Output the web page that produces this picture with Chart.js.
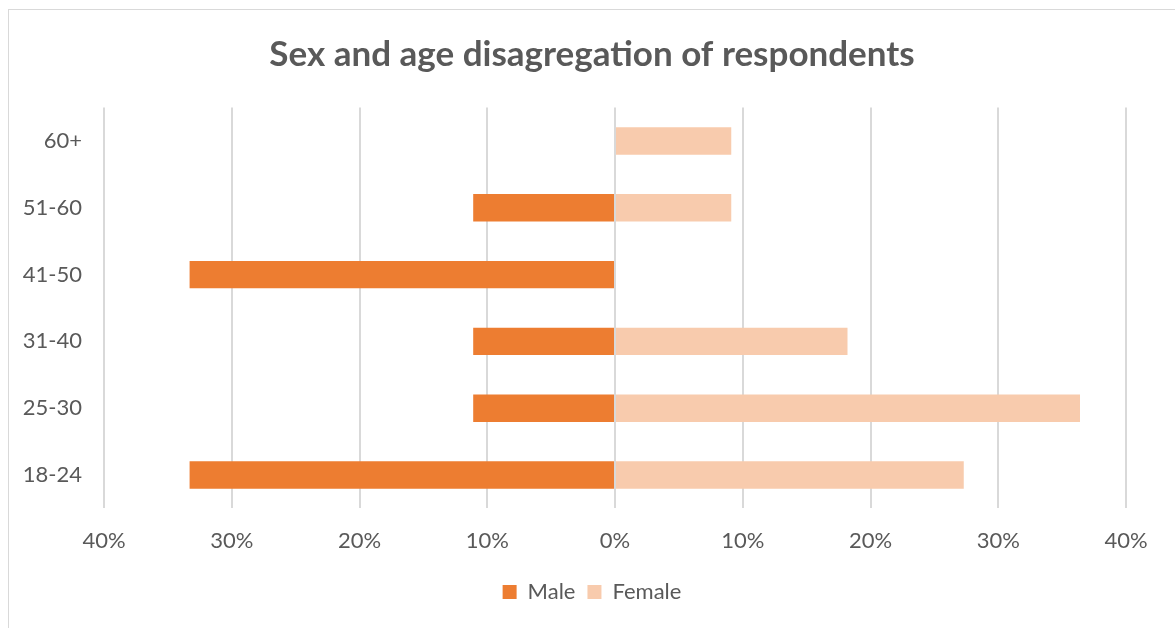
<!DOCTYPE html>
<html>
<head>
<meta charset="utf-8">
<script src="https://cdn.jsdelivr.net/npm/chart.js@4"></script>
<style>
  html, body { margin: 0; padding: 0; background: #fff; overflow: hidden; }
  #frame { position: absolute; left: 8px; top: 9px; width: 1300px; height: 800px; border: 1px solid #d9d9d9; }
  #chart { position: absolute; left: 0; top: 0; }
</style>
</head>
<body>
<div id="frame"></div>
<canvas id="chart" width="1184" height="628"></canvas>
<script>
// Age groups, top to bottom as in the picture
const ageGroups = ["60+", "51-60", "41-50", "31-40", "25-30", "18-24"];
// Share of respondents (%), male shown on the left as negative values
const malePct = [0, -11.1, -33.3, -11.1, -11.1, -33.3];
const femalePct = [9.1, 9.1, 0, 18.2, 36.4, 27.3];
// Axis range
const axisMin = -40;
const axisMax = 40;
const axisStep = 10;

const textColor = "#595959";
const fontFamily = "Lato, 'Noto Sans', sans-serif";

new Chart(document.getElementById("chart"), {
  type: "bar",
  data: {
    labels: ageGroups,
    datasets: [
      {
        label: "Male",
        data: malePct,
        backgroundColor: "#ED7D31",
        borderWidth: 0,
        barPercentage: 0.41,
        categoryPercentage: 1,
      },
      {
        label: "Female",
        data: femalePct,
        backgroundColor: "#F8CBAD",
        borderWidth: 0,
        barPercentage: 0.41,
        categoryPercentage: 1,
      },
    ],
  },
  options: {
    indexAxis: "y",
    responsive: false,
    animation: false,
    layout: { padding: { left: 0, right: 0, top: 0, bottom: 15 } },
    scales: {
      x: {
        stacked: true,
        min: axisMin,
        max: axisMax,
        ticks: {
          stepSize: axisStep,
          padding: 19,
          color: textColor,
          font: { family: fontFamily, size: 22 },
          callback: (v) => Math.abs(Math.round(v)) + "%",
        },
        grid: { color: "#d9d9d9", lineWidth: 2, drawTicks: false },
        border: { display: false },
        afterFit: (scale) => { scale.height = 60.6; },
      },
      y: {
        stacked: true,
        ticks: {
          padding: 22,
          color: textColor,
          font: { family: fontFamily, size: 22 },
        },
        grid: { display: false, drawTicks: false },
        border: { display: false },
        afterFit: (scale) => { scale.width = 104; },
      },
      // empty right-hand spacer so title and legend centre like the original
      yRight: {
        type: "category",
        position: "right",
        ticks: { display: false },
        grid: { display: false, drawTicks: false },
        border: { display: false },
        afterFit: (scale) => { scale.width = 58; },
      },
    },
    plugins: {
      title: {
        display: true,
        text: "Sex and age disagregation of respondents",
        color: textColor,
        font: { family: fontFamily, size: 35, weight: "bold" },
        padding: { top: 33.4, bottom: 32.2 },
      },
      legend: {
        position: "bottom",
        labels: {
          boxWidth: 14,
          boxHeight: 14,
          padding: 12,
          color: textColor,
          font: { family: fontFamily, size: 22 },
        },
      },
      tooltip: { enabled: false },
    },
  },
});
</script>
</body>
</html>
